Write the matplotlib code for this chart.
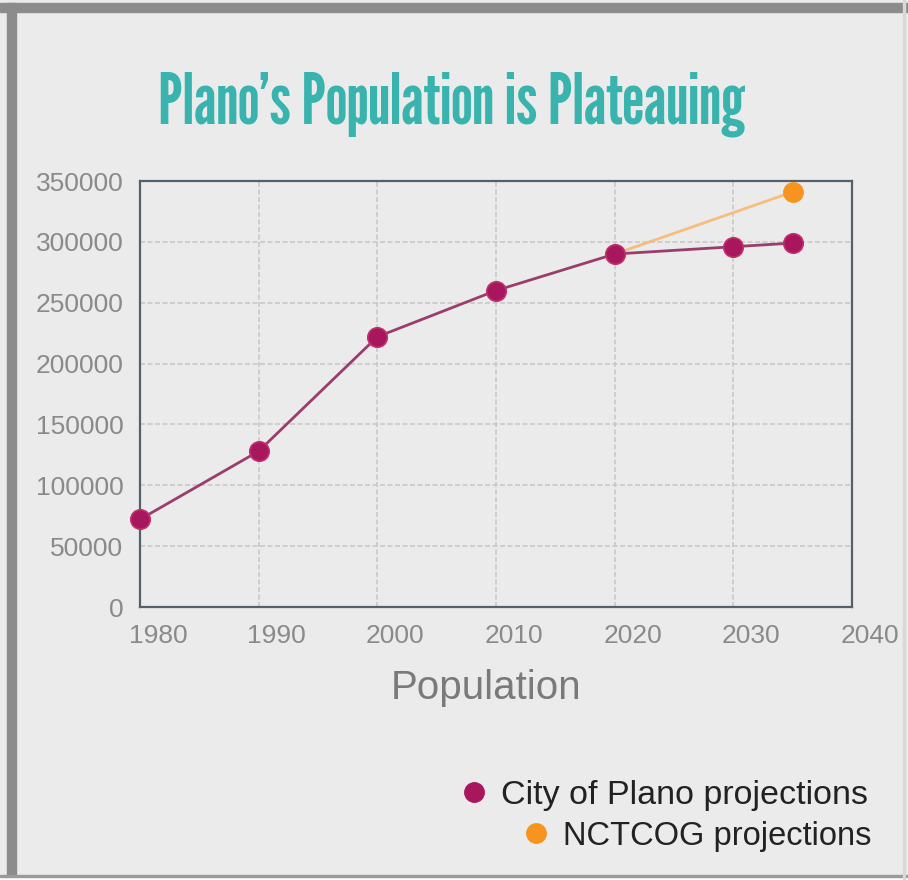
import matplotlib
matplotlib.use("Agg")
import matplotlib.pyplot as plt
import matplotlib.transforms as mtransforms
from matplotlib.lines import Line2D
from matplotlib.patches import Rectangle

# datos
plano_years = [1980, 1990, 2000, 2010, 2020, 2030, 2035]
plano_pop = [72000, 128000, 222000, 260000, 290000, 296000, 299000]
nctcog_years = [2020, 2035]
nctcog_pop = [290000, 341000]

x_ticks = [1980, 1990, 2000, 2010, 2020, 2030, 2040]
y_ticks = [0, 50000, 100000, 150000, 200000, 250000, 300000, 350000]

plano_color = "#a8175e"
plano_line = "#9a3d6c"
nctcog_color = "#f7941d"
nctcog_line = "#f6bd7c"
bg = "#ebebeb"

plt.rcParams['font.family'] = ['Liberation Sans', 'DejaVu Sans']

fig = plt.figure(figsize=(9.08, 8.8), dpi=100, facecolor=bg)

# marco gris de la captura
fig.patches.append(Rectangle((0, 1 - 12/880), 1, 9/880, transform=fig.transFigure,
                             color="#8c8c8c", zorder=0))
fig.patches.append(Rectangle((7/908, 0), 9/908, 1 - 3/880, transform=fig.transFigure,
                             color="#8c8c8c", zorder=0))
fig.patches.append(Rectangle((0, 0), 1, 3/880, transform=fig.transFigure,
                             color="#ffffff", zorder=0))
fig.patches.append(Rectangle((0, 3/880), 1, 2/880, transform=fig.transFigure,
                             color="#9a9a9a", zorder=0))
fig.patches.append(Rectangle((903/908, 0), 2/908, 1, transform=fig.transFigure,
                             color="#d8d8d8", zorder=0))

ax = fig.add_axes([140/908, 1 - 607/880, 712/908, 426/880])
ax.set_facecolor(bg)

ax.plot(nctcog_years, nctcog_pop, color=nctcog_line, lw=2, zorder=3)
ax.plot(nctcog_years[-1:], nctcog_pop[-1:], 'o', color=nctcog_color, ms=14,
        zorder=5, clip_on=False)
ax.plot(plano_years, plano_pop, color=plano_line, lw=2, zorder=4)
ax.plot(plano_years, plano_pop, 'o', color=plano_color, ms=14,
        markeredgecolor="#c0306f", markeredgewidth=1.2, zorder=6, clip_on=False)

ax.set_xlim(1980, 2040)
ax.set_ylim(0, 350000)
ax.set_xticks(x_ticks)
ax.set_yticks(y_ticks)
ax.set_yticklabels([str(v) for v in y_ticks])

ax.grid(True, color="#c9c9c9", linestyle=(0, (3, 1.5)), lw=1.2)
ax.set_axisbelow(True)
for s in ax.spines.values():
    s.set_color("#52616b")
    s.set_linewidth(1.6)

ax.tick_params(length=0, labelsize=19, labelcolor="#8a8a8a", pad=12)
# las etiquetas del eje x estan corridas un poco a la derecha
offset = mtransforms.ScaledTranslation(18/100, 0, fig.dpi_scale_trans)
for lbl in ax.get_xticklabels():
    lbl.set_transform(lbl.get_transform() + offset)

ax.set_xlabel("Population", fontsize=29, color="#7a7a7a", labelpad=22)
ax.xaxis.set_label_coords(0.486, -0.145)

fig.text(0.497, 1 - 104/880, "Plano\u2019s Population is Plateauing",
         ha='center', va='center', fontsize=50.5, color="#38b3ae",
         family=['League Gothic', 'Antonio', 'DejaVu Sans'])

# leyenda: una por fila para alinear a la derecha
h1 = Line2D([], [], marker='o', ls='', color=plano_color, ms=14)
h2 = Line2D([], [], marker='o', ls='', color=nctcog_color, ms=14)
leg1 = fig.legend(handles=[h1], labels=["City of Plano projections"],
                  loc='center right', bbox_to_anchor=(882/908, 1 - 795/880),
                  frameon=False, fontsize=24.5, handletextpad=0.3, handlelength=1,
                  borderaxespad=0)
leg2 = fig.legend(handles=[h2], labels=["NCTCOG projections"],
                  loc='center right', bbox_to_anchor=(884/908, 1 - 836/880),
                  frameon=False, fontsize=23.5, handletextpad=0.3, handlelength=1,
                  borderaxespad=0)
for t in leg1.get_texts() + leg2.get_texts():
    t.set_color("#222222")

fig.savefig("out.png", dpi=100, facecolor=bg)
